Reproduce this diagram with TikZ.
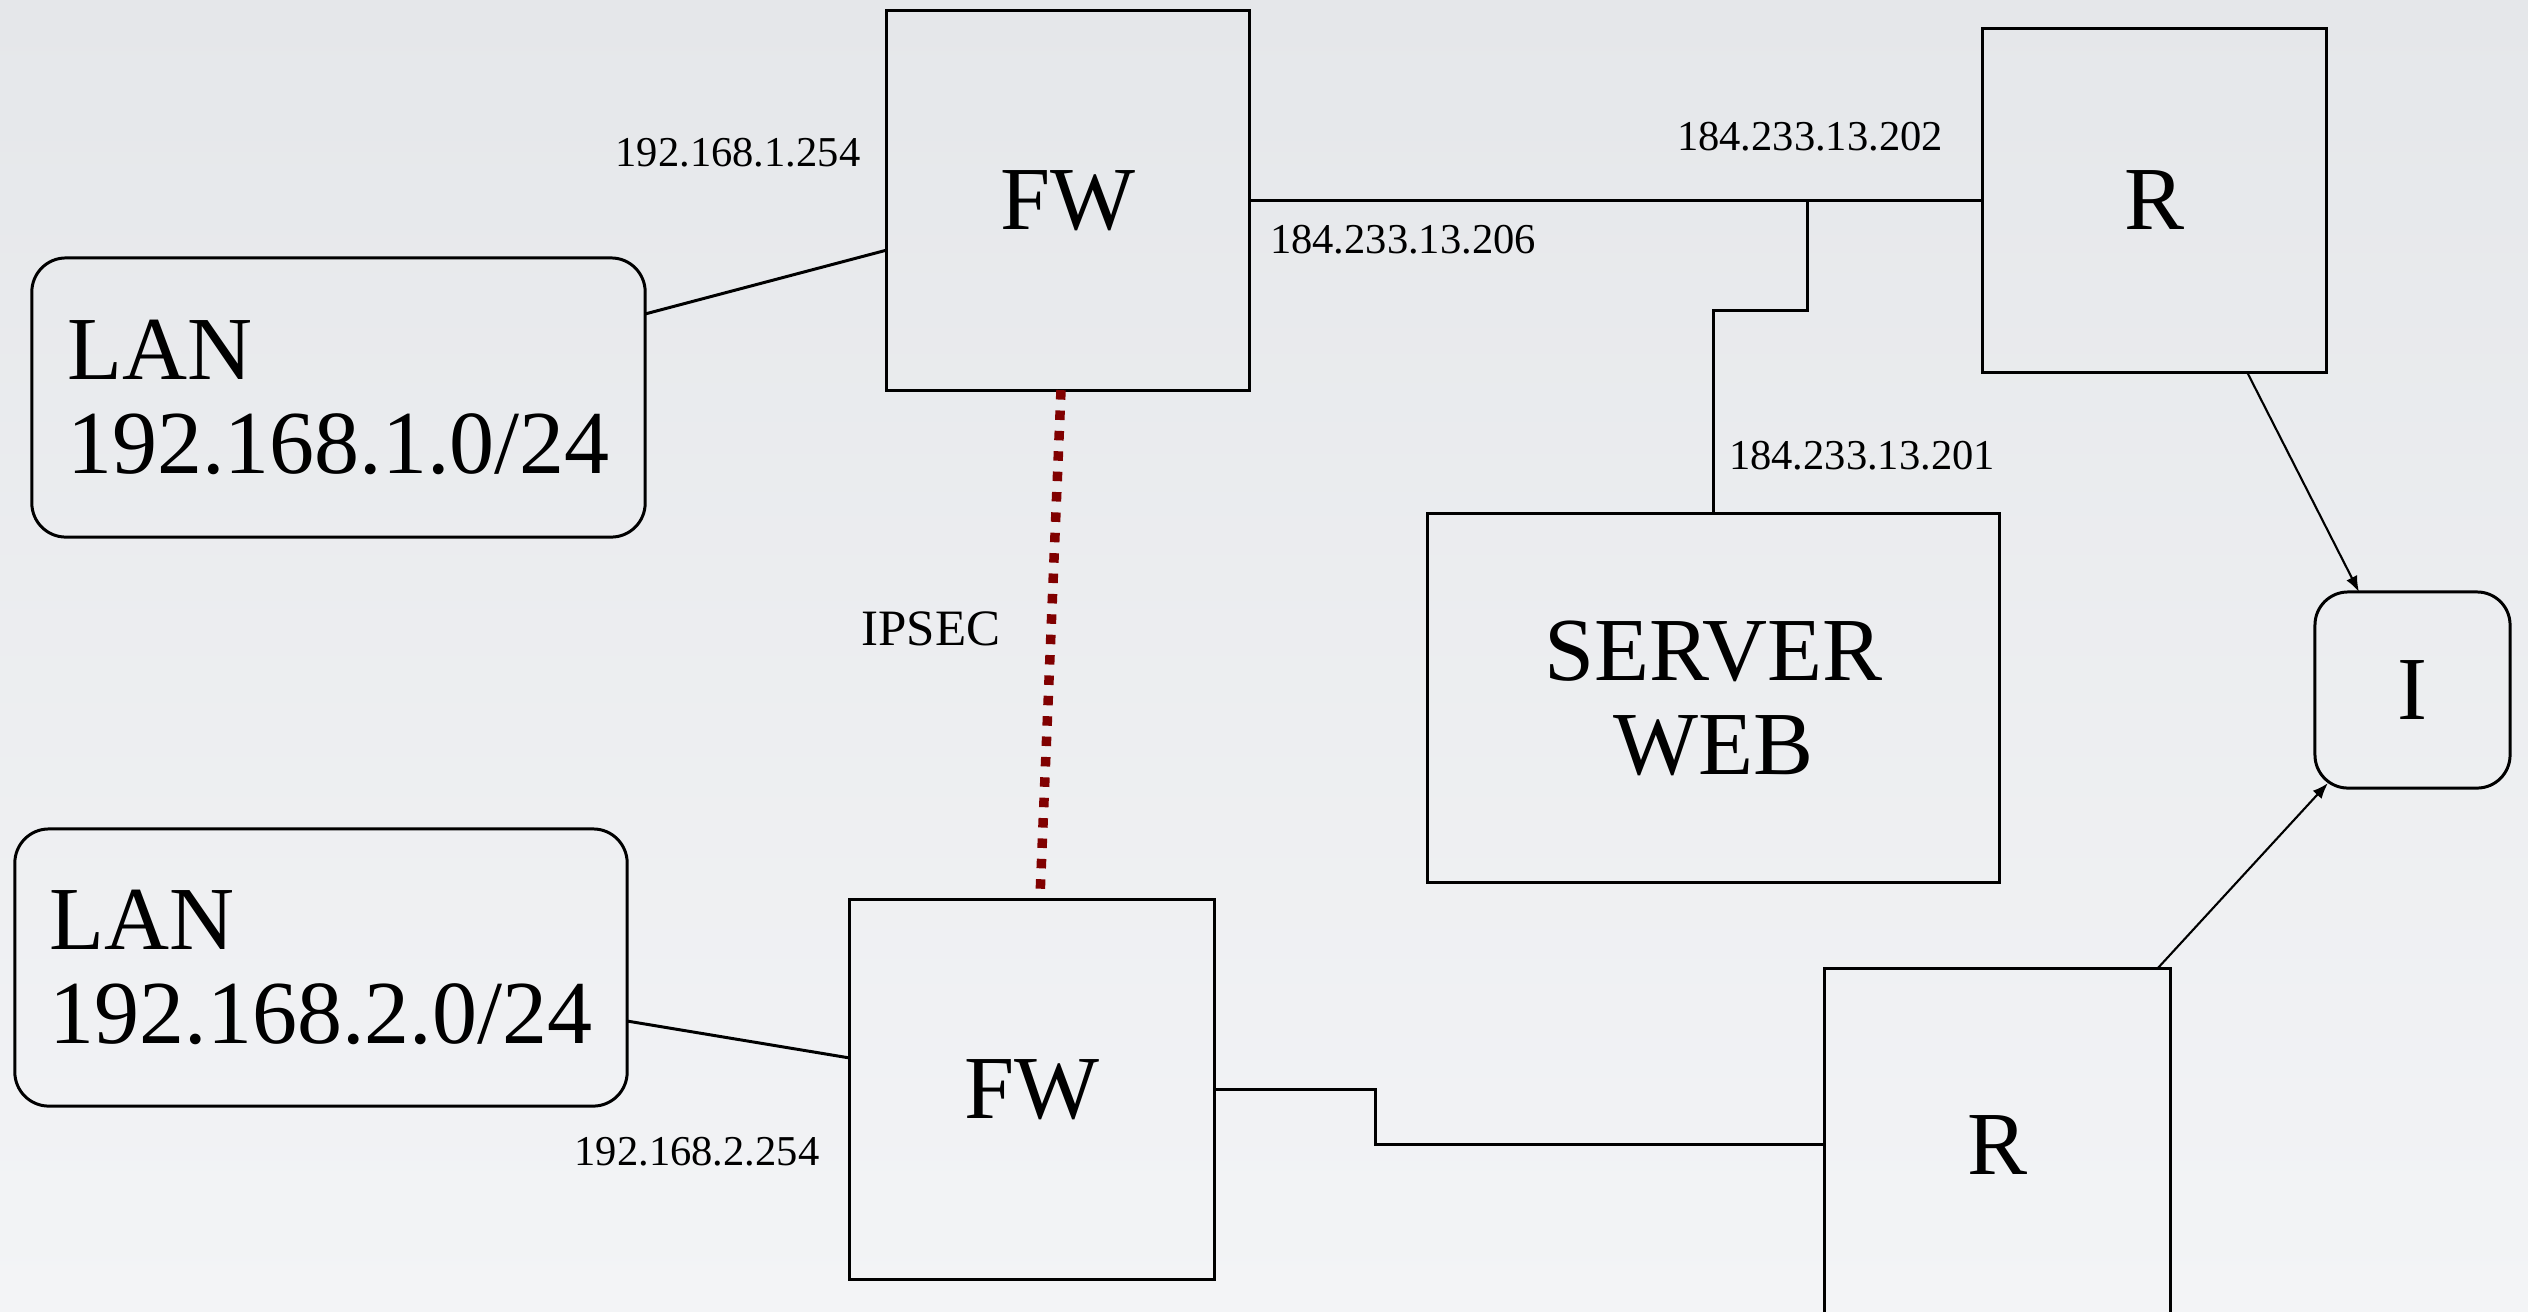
\documentclass[tikz,border=0pt]{standalone}
\usepackage{fontspec}
\setmainfont{Liberation Serif}
\usetikzlibrary{arrows.meta}
\definecolor{bgtop}{RGB}{229,231,234}
\definecolor{bgbot}{RGB}{243,244,246}
\definecolor{tunnelred}{RGB}{128,0,0}
\newcommand\netbig{\fontsize{25.6}{26.8}\selectfont}
\newcommand\netsmall{\fontsize{12.1}{14}\selectfont}
\begin{document}
\begin{tikzpicture}[x=0.01cm,y=-0.01cm,
  box/.style={draw=black,line width=0.85pt,inner sep=0pt,outer sep=0pt,
              font=\netbig,align=center},
  lanbox/.style={box,rounded corners=0.34cm,align=left},
  link/.style={draw=black,line width=0.85pt},
  uplink/.style={draw=black,line width=0.6pt,-{Latex[length=4.5pt,width=3.4pt]}},
  tunnel/.style={draw=tunnelred,line width=2.7pt,dash pattern=on 2.7pt off 3.1pt},
  addr/.style={font=\netsmall,inner sep=0pt},
  ]
% canvas
\useasboundingbox (0,0) rectangle (2528,1311);
\shade[top color=bgtop,bottom color=bgbot] (0,0) rectangle (2528,1311);
\clip (0,0) rectangle (2528,1311);

% devices
\node[box,minimum width=3.62cm,minimum height=3.79cm] (fwa) at (1068,200.5) {FW};
\node[lanbox,minimum width=6.13cm,minimum height=2.79cm] (lana) at (338.5,397.5) {LAN\\192.168.1.0/24};
\node[box,minimum width=3.43cm,minimum height=3.43cm] (ra) at (2154.5,200.5) {R};
\node[box,minimum width=5.71cm,minimum height=3.68cm] (srv) at (1713.5,698) {SERVER\\WEB};
\node[box,rounded corners=0.33cm,minimum width=1.95cm,minimum height=1.96cm] (inet) at (2412.5,690) {I};
\node[lanbox,minimum width=6.12cm,minimum height=2.77cm] (lanb) at (321,967.5) {LAN\\192.168.2.0/24};
\node[box,minimum width=3.64cm,minimum height=3.79cm] (fwb) at (1032,1089.5) {FW};
\node[box,minimum width=3.45cm,minimum height=3.51cm] (rb) at (1997.5,1144.5) {R};

% address labels
\node[addr] (ipfwa) at (738,153) {192.168.1.254};
\node[addr] (ipra) at (1810,137) {184.233.13.202};
\node[addr] (ipfwaext) at (1403,240) {184.233.13.206};
\node[addr] (ipsrv) at (1862,456) {184.233.13.201};
\node[addr] (ipfwb) at (697,1152) {192.168.2.254};
\node[font=\fontsize{14.5}{16}\selectfont,inner sep=0pt] (vpn) at (931,629) {IPSEC};

% site 1 links
\draw[link] ([yshift=0.835cm]lana.east) -- ([yshift=-0.495cm]fwa.west);
\draw[link] (fwa.east) -- (ra.west);
\coordinate (tap) at ([xshift=5.58cm]fwa.east);
\draw[link] (tap) -- ++(0,109.5) -| (srv.north);

% site 2 links
\draw[link] ([yshift=-0.535cm]lanb.east) -- ([yshift=0.315cm]fwb.west);
\draw[link] (fwb.east) -- ++(161,0) |- (rb.west);

% uplinks to the internet
\draw[uplink] ([xshift=0.925cm]ra.south) -- ([xshift=-0.535cm]inet.north);
\draw[uplink] ([xshift=1.595cm]rb.north) -- ([xshift=0.13cm,yshift=0.05cm]inet.south west);

% VPN tunnel between the firewalls
\draw[tunnel] ([xshift=-0.07cm]fwa.south) -- ([xshift=0.08cm,yshift=0.03cm]fwb.north);
\end{tikzpicture}
\end{document}
